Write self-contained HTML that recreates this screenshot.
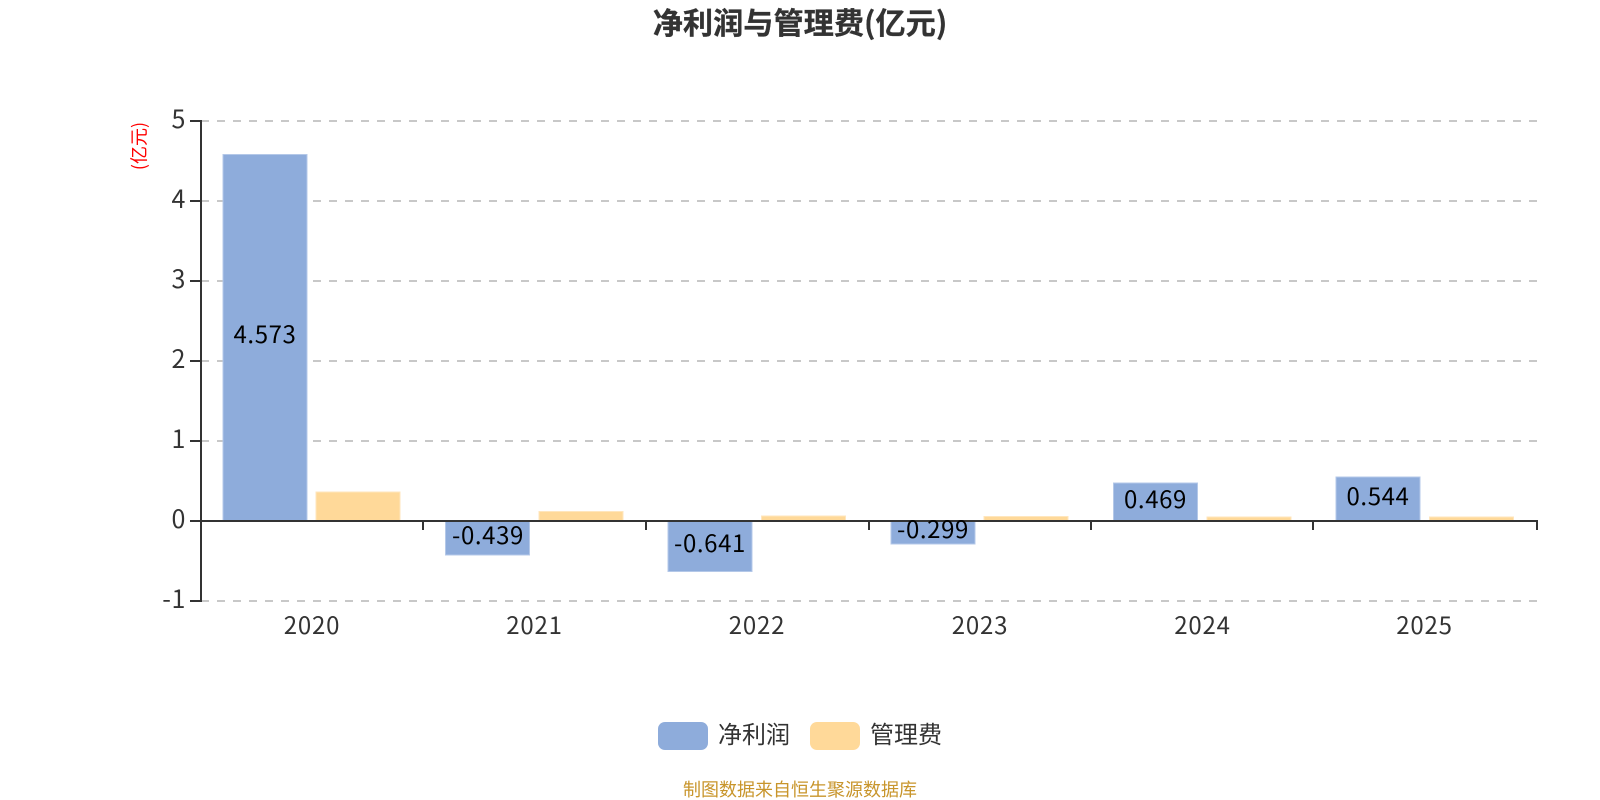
<!DOCTYPE html>
<html lang="zh">
<head>
<meta charset="utf-8">
<style>
html,body{margin:0;padding:0;background:#fff;width:1600px;height:800px;overflow:hidden}
svg{display:block}
text{font-family:"Noto Sans CJK SC","Liberation Sans",sans-serif}
.g{stroke:#c8c8c8;stroke-width:2;stroke-dasharray:8 8;fill:none}
.a{stroke:#333;stroke-width:2;fill:none}
.b{fill:#8eacdb;stroke:#b4c8e8;stroke-width:1}
.o{fill:#ffd999;stroke:#ffe6bd;stroke-width:1}
.y{font-size:25px;fill:#333;text-anchor:end;letter-spacing:.6px}
.x{font-size:24px;fill:#333;text-anchor:middle;letter-spacing:.8px}
.d{font-size:24px;fill:#000;text-anchor:middle;letter-spacing:.6px}
</style>
</head>
<body>
<svg width="1600" height="800" viewBox="0 0 1600 800" xmlns="http://www.w3.org/2000/svg">
<rect width="1600" height="800" fill="#fff"/>
<text x="800" y="34" font-size="30.2" font-weight="700" fill="#333" stroke="#333" stroke-width=".3" text-anchor="middle">净利润与管理费(亿元)</text>
<text transform="translate(145.5,146) rotate(-90)" font-size="18" fill="#f00" text-anchor="middle">(亿元)</text>

<path class="g" d="M201 121H1537M201 201H1537M201 281H1537M201 361H1537M201 441H1537M201 601H1537"/>

<rect class="b" x="223" y="154.5" width="84" height="366"/>
<rect class="o" x="316" y="492" width="84" height="28.5"/>
<rect class="b" x="445.5" y="520.5" width="84" height="34.5"/>
<rect class="o" x="539" y="511.5" width="84" height="9"/>
<rect class="b" x="668" y="520.5" width="84" height="51"/>
<rect class="o" x="761.5" y="516" width="84" height="4.5"/>
<rect class="b" x="891" y="520.5" width="84" height="23.5"/>
<rect class="o" x="984" y="516.5" width="84" height="4"/>
<rect class="b" x="1113.5" y="483" width="84" height="37.5"/>
<rect class="o" x="1207" y="517" width="84" height="3.5"/>
<rect class="b" x="1336" y="477" width="84" height="43.5"/>
<rect class="o" x="1429.5" y="517" width="84" height="3.5"/>

<path class="a" d="M201 120V602M190 121H201M190 201H201M190 281H201M190 361H201M190 441H201M190 521H1538M190 601H201"/>
<path class="a" d="M423 520V530M646 520V530M869 520V530M1091 520V530M1313 520V530M1537 520V530"/>

<text class="y" x="186" y="128">5</text>
<text class="y" x="186" y="208">4</text>
<text class="y" x="186" y="288">3</text>
<text class="y" x="186" y="368">2</text>
<text class="y" x="186" y="448">1</text>
<text class="y" x="186" y="528">0</text>
<text class="y" x="186" y="608">-1</text>

<text class="x" x="312" y="634">2020</text>
<text class="x" x="534.5" y="634">2021</text>
<text class="x" x="757" y="634">2022</text>
<text class="x" x="980" y="634">2023</text>
<text class="x" x="1202.5" y="634">2024</text>
<text class="x" x="1424.5" y="634">2025</text>

<text class="d" x="265" y="343">4.573</text>
<text class="d" x="488" y="544">-0.439</text>
<text class="d" x="710" y="552">-0.641</text>
<text class="d" x="933" y="538">-0.299</text>
<text class="d" x="1155.5" y="508">0.469</text>
<text class="d" x="1378" y="505">0.544</text>

<rect x="658" y="722" width="50" height="28" rx="7" fill="#8eacdb"/>
<text x="718" y="743" font-size="24" fill="#333">净利润</text>
<rect x="810" y="722" width="50" height="28" rx="7" fill="#ffd999"/>
<text x="870" y="743" font-size="24" fill="#333">管理费</text>

<text x="800" y="796" font-size="18" fill="#c8952b" text-anchor="middle">制图数据来自恒生聚源数据库</text>
</svg>
</body>
</html>
